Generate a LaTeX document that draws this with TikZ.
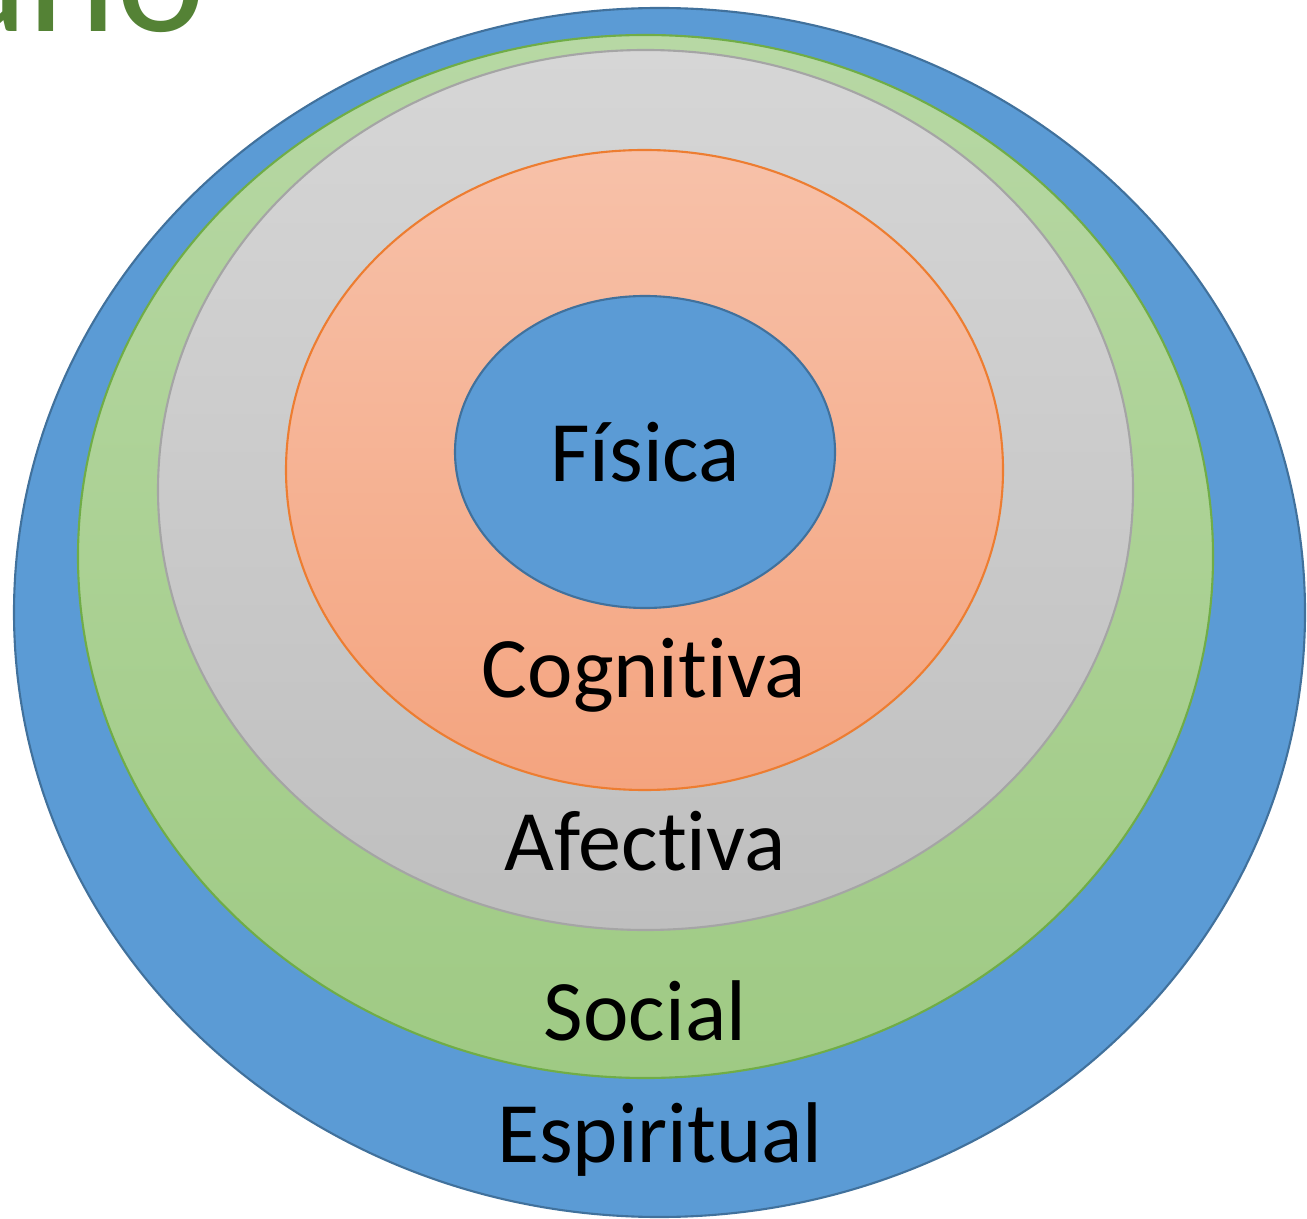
\documentclass[tikz,border=0pt]{standalone}
\usepackage{fontspec}
\setmainfont[Ligatures=NoCommon]{Carlito}
\definecolor{ringblue}{HTML}{5B9BD5}
\definecolor{ringblueline}{HTML}{41719C}
\definecolor{greentop}{HTML}{B7D8A4}
\definecolor{greenbot}{HTML}{9FCA84}
\definecolor{greenline}{HTML}{70AD47}
\definecolor{graytop}{HTML}{D6D6D6}
\definecolor{graybot}{HTML}{BFBFBF}
\definecolor{grayline}{HTML}{A5A5A5}
\definecolor{orangetop}{HTML}{F7C1A9}
\definecolor{orangebot}{HTML}{F4A47F}
\definecolor{orangeline}{HTML}{ED7D31}
\definecolor{titlegreen}{HTML}{548235}

\begin{document}
\begin{tikzpicture}[x=0.01cm,y=0.01cm]
			\useasboundingbox (0,0) rectangle (1307,1218);
			% Define the ring and label styles
			\tikzstyle{ring} = [line width=0.6pt];
			\tikzstyle{lbl} = [font=\fontsize{24.5}{30}\selectfont, text=black, anchor=base, inner sep=0pt];
			
			% Title cut off at the top edge
			\node[anchor=base east, inner sep=0pt, text=titlegreen, font=\fontsize{48}{56}\selectfont] (title) at (206,1186) {Humano};
			
			% Draw the rings from the outside in
			\foreach \cx/\cy/\rx/\ry/\ct/\cb/\ce in {659.5/605.5/645.5/604.5/ringblue/ringblue/ringblueline, 645.5/661.5/567.5/521.5/greentop/greenbot/greenline, 645.5/728/487.5/440/graytop/graybot/grayline, 644.5/748/358.5/320/orangetop/orangebot/orangeline, 645/766/190/156/ringblue/ringblue/ringblueline}
			\draw[ring, draw=\ce, top color=\ct, bottom color=\cb] (\cx,\cy) ellipse [x radius=\rx, y radius=\ry];
			
			\node[lbl] (fisica) at (645,736) {Física};
			\node[lbl] (cognitiva) at (644,521) {Cognitiva};
			\node[lbl] (afectiva) at (645,348) {Afectiva};
			\node[lbl] (social) at (645,178) {Social};
			\node[lbl] (espiritual) at (660,56) {Espiritual};
		\end{tikzpicture}
\end{document}
